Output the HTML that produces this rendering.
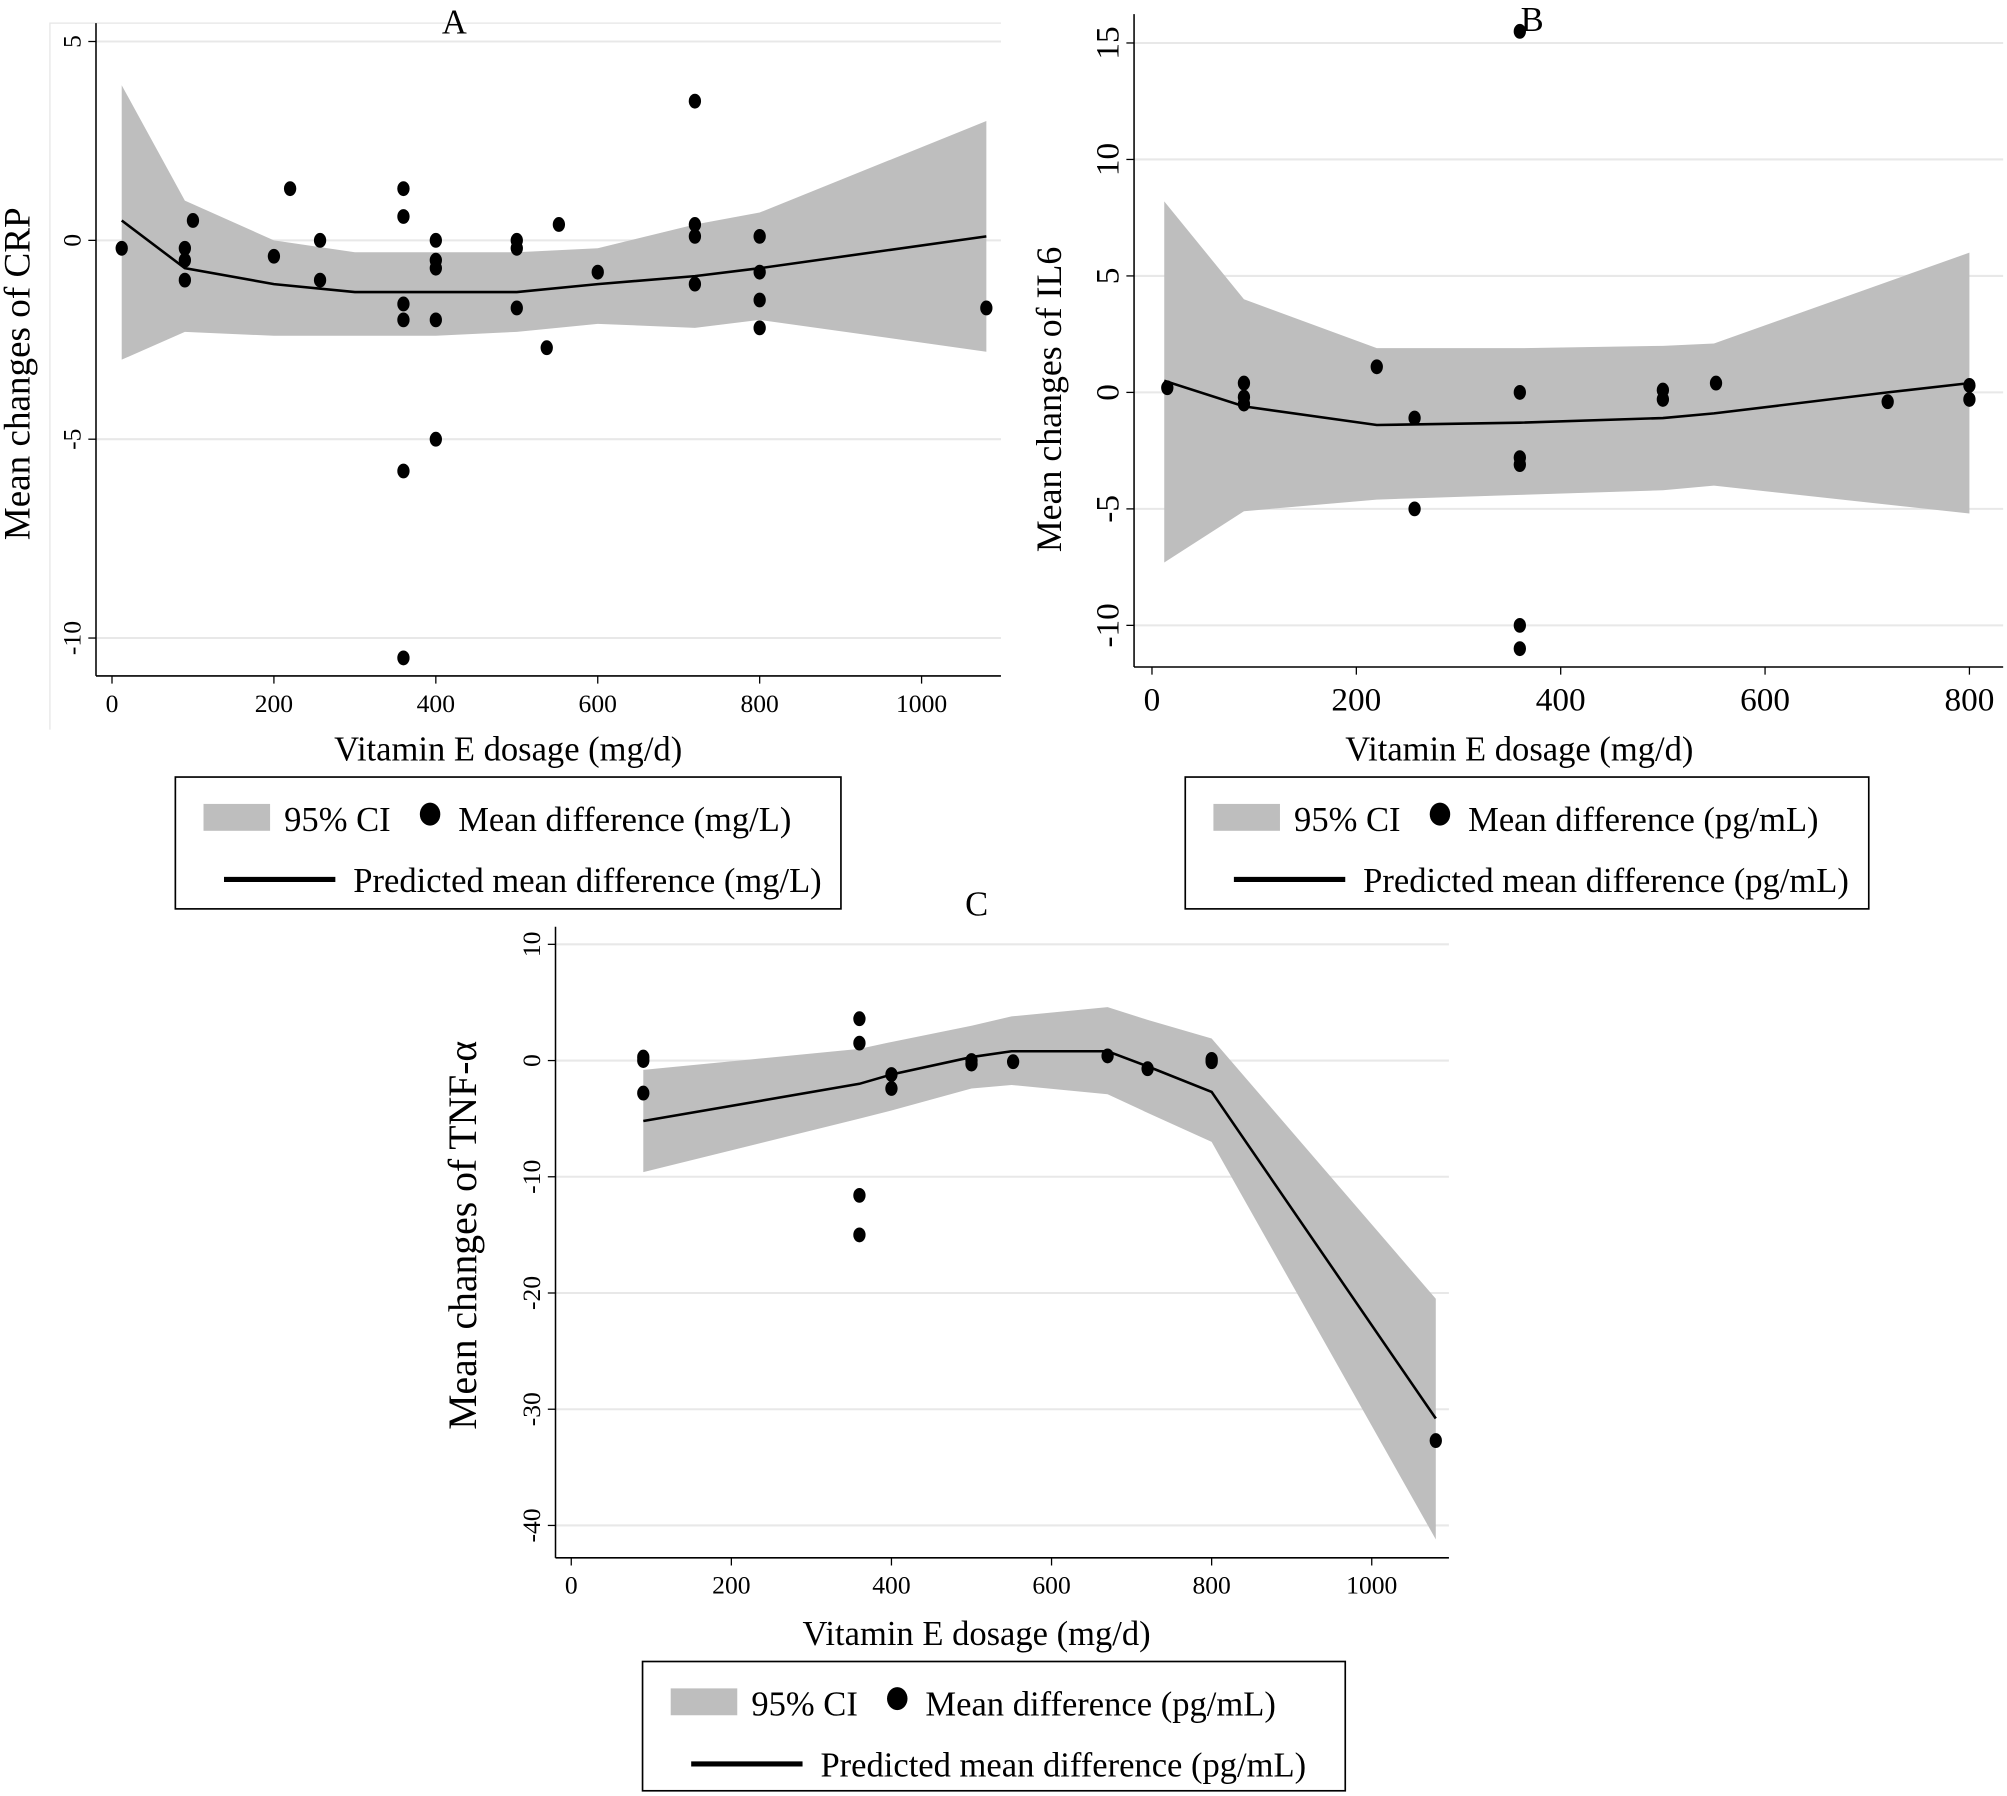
<!DOCTYPE html>
<html><head><meta charset="utf-8">
<style>
html,body{margin:0;padding:0;background:#fff;}
svg{display:block;}
text{font-family:"Liberation Serif",serif;fill:#000;}
</style></head>
<body>
<svg id="s" width="2007" height="1796" viewBox="0 0 1568 1403" xmlns="http://www.w3.org/2000/svg"></svg>
<script>
var s=document.getElementById('s');var h='';
function panel(o){
 var X=function(v){return o.x0+v*o.sx;}, Y=function(v){return o.y0-v*o.sy;};
 if(o.frame) h+='<path d="'+o.frame+'" fill="none" stroke="#e6e6e6" stroke-width="1"/>';
 o.yt.forEach(function(t){h+='<line x1="'+o.ax+'" x2="'+o.right+'" y1="'+Y(t)+'" y2="'+Y(t)+'" stroke="#e8e8e8" stroke-width="1.6"/>';});
 var p='M';o.up.forEach(function(a,i){p+=(i?' L':'')+X(a[0])+' '+Y(a[1]);});
 o.lo.slice().reverse().forEach(function(a){p+=' L'+X(a[0])+' '+Y(a[1]);});
 h+='<path d="'+p+'Z" fill="#bebebe"/>';
 var l='';o.ln.forEach(function(a,i){l+=(i?' L':'M')+X(a[0])+' '+Y(a[1]);});
 h+='<path d="'+l+'" fill="none" stroke="#000" stroke-width="2"/>';
 o.pts.forEach(function(a){h+='<ellipse cx="'+X(a[0])+'" cy="'+Y(a[1])+'" rx="4.8" ry="5.8" fill="#000"/>';});
 h+='<line x1="'+o.ax+'" x2="'+o.ax+'" y1="'+o.top+'" y2="'+o.bot+'" stroke="#000" stroke-width="1.2"/>';
 h+='<line x1="'+o.ax+'" x2="'+o.right+'" y1="'+o.bot+'" y2="'+o.bot+'" stroke="#000" stroke-width="1.2"/>';
 o.yt.forEach(function(t){var y=Y(t);h+='<line x1="'+(o.ax-6)+'" x2="'+o.ax+'" y1="'+y+'" y2="'+y+'" stroke="#000"/>';
  h+='<text x="'+(o.ax-12)+'" y="'+y+'" font-size="'+o.tf+'" text-anchor="middle" transform="rotate(-90 '+(o.ax-12)+' '+y+')">'+(t<0?'-'+(-t):t)+'</text>';});
 o.xt.forEach(function(t){var x=X(t);h+='<line x1="'+x+'" x2="'+x+'" y1="'+o.bot+'" y2="'+(o.bot+6)+'" stroke="#000"/>';
  h+='<text x="'+x+'" y="'+(o.bot+o.tf+8)+'" font-size="'+o.tf+'" text-anchor="middle">'+t+'</text>';});
 h+='<text x="'+o.xtx+'" y="'+o.xty+'" font-size="27" text-anchor="middle">Vitamin E dosage (mg/d)</text>';
 h+='<text x="'+o.ylx+'" y="'+o.yly+'" font-size="'+o.ylf+'" text-anchor="middle" transform="rotate(-90 '+o.ylx+' '+o.yly+')">'+o.yl+'</text>';
 h+='<text x="'+o.tx+'" y="'+o.ty+'" font-size="27" text-anchor="middle">'+o.title+'</text>';
 var L=o.leg;
 h+='<rect x="'+L.x+'" y="'+L.y+'" width="'+L.w+'" height="'+L.h+'" fill="#fff" stroke="#000" stroke-width="1.3"/>';
 h+='<rect x="'+(L.x+22)+'" y="'+(L.y+21)+'" width="52" height="21" fill="#bebebe"/>';
 h+='<text x="'+(L.x+85)+'" y="'+(L.y+42)+'" font-size="27">95% CI</text>';
 h+='<ellipse cx="'+(L.x+L.dx)+'" cy="'+(L.y+29)+'" rx="8" ry="9" fill="#000"/>';
 h+='<text x="'+(L.x+L.dx+22)+'" y="'+(L.y+42)+'" font-size="27">Mean difference ('+L.u+')</text>';
 h+='<line x1="'+(L.x+38)+'" x2="'+(L.x+125)+'" y1="'+(L.y+80)+'" y2="'+(L.y+80)+'" stroke="#000" stroke-width="4"/>';
 h+='<text x="'+(L.x+139)+'" y="'+(L.y+90)+'" font-size="27">Predicted mean difference ('+L.u+')</text>';
}
panel({x0:87.5,sx:0.6325,y0:187.7,sy:31.07,ax:75,right:782,top:18,bot:528,tf:20,
 frame:'M39 570 L39 18 L782 18',
 yt:[5,0,-5,-10],xt:[0,200,400,600,800,1000],
 up:[[12,3.9],[90,1.0],[200,0],[300,-0.3],[400,-0.3],[500,-0.3],[600,-0.2],[720,0.4],[800,0.7],[1080,3.0]],
 lo:[[12,-3],[90,-2.3],[200,-2.4],[400,-2.4],[500,-2.3],[600,-2.1],[720,-2.2],[800,-2.0],[1080,-2.8]],
 ln:[[12,0.5],[90,-0.7],[200,-1.1],[300,-1.3],[400,-1.3],[500,-1.3],[600,-1.1],[720,-0.9],[800,-0.7],[1080,0.1]],
 pts:[[12,-0.2],[90,-0.2],[90,-0.5],[90,-1.0],[100,0.5],[200,-0.4],[220,1.3],[257,0],[257,-1.0],[360,1.3],[360,0.6],[360,-1.6],[360,-2.0],[360,-5.8],[360,-10.5],[400,0],[400,-0.5],[400,-0.7],[400,-2.0],[400,-5.0],[500,0],[500,-0.2],[500,-1.7],[537,-2.7],[552,0.4],[600,-0.8],[720,3.5],[720,0.4],[720,0.1],[720,-1.1],[800,0.1],[800,-0.8],[800,-1.5],[800,-2.2],[1080,-1.7]],
 xtx:397,xty:594,ylx:23,yly:292,ylf:29,yl:'Mean changes of CRP',tx:355,ty:26,title:'A',
 leg:{x:137,y:607,w:520,h:103,dx:199,u:'mg/L'}});
panel({x0:900,sx:0.7983,y0:306.5,sy:18.2,ax:886,right:1565,top:11,bot:521,tf:26,
 yt:[15,10,5,0,-5,-10],xt:[0,200,400,600,800],
 up:[[12,8.2],[90,4.0],[220,1.9],[360,1.9],[500,2.0],[550,2.1],[800,6.0]],
 lo:[[12,-7.3],[90,-5.1],[220,-4.6],[360,-4.4],[500,-4.2],[550,-4.0],[800,-5.2]],
 ln:[[12,0.5],[90,-0.6],[220,-1.4],[360,-1.3],[500,-1.1],[550,-0.9],[720,0],[800,0.4]],
 pts:[[15,0.2],[90,0.4],[90,-0.2],[90,-0.5],[220,1.1],[257,-1.1],[257,-5.0],[360,15.5],[360,0],[360,-2.8],[360,-3.1],[360,-10],[360,-11],[500,0.1],[500,-0.3],[552,0.4],[720,-0.4],[800,0.3],[800,-0.3]],
 xtx:1187,xty:594,ylx:829,yly:312,ylf:28,yl:'Mean changes of IL6',tx:1197,ty:24,title:'B',
 leg:{x:926,y:607,w:534,h:103,dx:199,u:'pg/mL'}});
panel({x0:446.3,sx:0.6254,y0:828.5,sy:9.08,ax:434,right:1132,top:724,bot:1217,tf:20,
 yt:[10,0,-10,-20,-30,-40],xt:[0,200,400,600,800,1000],
 up:[[90,-0.8],[360,1.0],[400,1.6],[500,3],[550,3.8],[670,4.6],[720,3.5],[800,1.9],[1080,-20.5]],
 lo:[[90,-9.6],[360,-5],[400,-4.3],[500,-2.4],[550,-2.1],[670,-2.9],[720,-4.5],[800,-7],[1080,-41.2]],
 ln:[[90,-5.2],[360,-2],[400,-1.2],[500,0.3],[550,0.8],[670,0.8],[720,-0.5],[800,-2.7],[1080,-30.8]],
 pts:[[90,0.3],[90,0],[90,-2.8],[360,3.6],[360,1.5],[360,-11.6],[360,-15],[400,-1.2],[400,-2.4],[500,0],[500,-0.3],[552,-0.1],[670,0.4],[720,-0.7],[800,0.1],[800,-0.1],[1080,-32.7]],
 xtx:763,xty:1285,ylx:372,yly:965,ylf:31,yl:'Mean changes of TNF-α',tx:763,ty:715,title:'C',
 leg:{x:502,y:1298,w:549,h:101,dx:199,u:'pg/mL'}});
s.innerHTML=h;
</script>
</body></html>
